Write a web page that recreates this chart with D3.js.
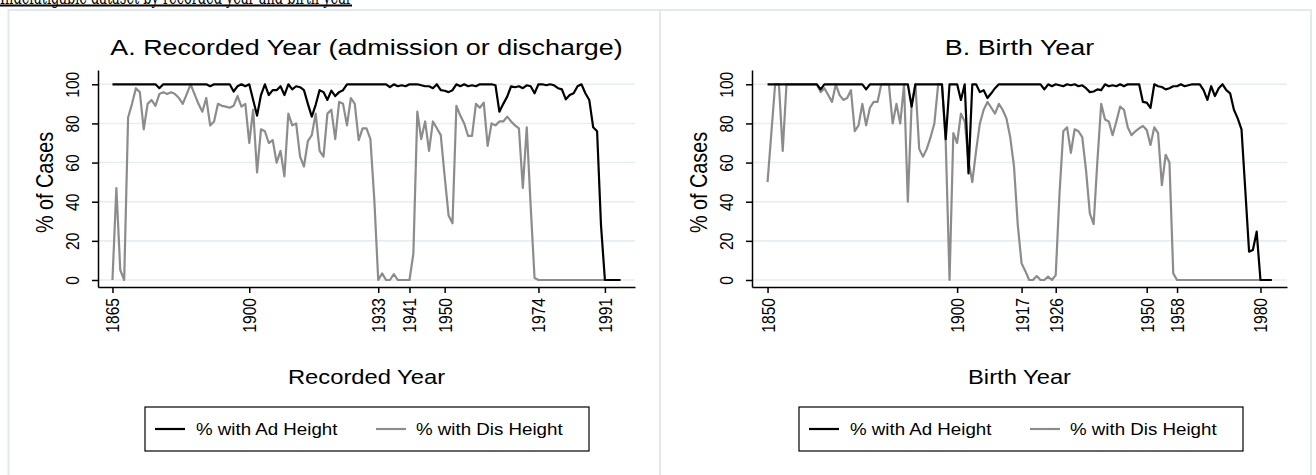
<!DOCTYPE html>
<html>
<head>
<meta charset="utf-8">
<script src="https://cdn.jsdelivr.net/npm/d3@7"></script>
<style>
  html, body { margin: 0; padding: 0; background: #fff; }
  svg { display: block; }
  text { font-family: "Liberation Sans", Arial, Helvetica, sans-serif; fill: #000; }
</style>
</head>
<body>
<svg id="chart" width="1316" height="475"></svg>
<script>
// ---------------- data ----------------
const headerText = "Indefatigable dataset by recorded year and birth year";
const panelTitles = ["A. Recorded Year (admission or discharge)", "B. Birth Year"];
const xAxisTitles = ["Recorded Year", "Birth Year"];
const yAxisTitle = "% of Cases";
const seriesNames = ["% with Ad Height", "% with Dis Height"];
const yTickValues = [0, 20, 40, 60, 80, 100];
const recTickValues = [1865, 1900, 1933, 1941, 1950, 1974, 1991];
const birthTickValues = [1850, 1900, 1917, 1926, 1950, 1958, 1980];

const recStartYear = 1865;   // recorded year series run 1865..1995
const birthStartYear = 1850; // birth year series run 1850..1983

const recAdHeight = [
  100,100,100,100,100,100,100,100,100,100,
  100,100,98,100,100,100,100,100,100,100,
  100,100,100,100,100,99,100,100,100,100,
  100,96.3,99,100,99,100,92,84,94.5,100,
  94.5,97,97,99,94.5,100,97.4,99,98.5,97,
  90,83.5,89.5,97,96,92,96.8,94,96,97,
  100,100,100,100,100,100,100,100,100,100,
  100,98.5,100,99,99.5,99,100,100,100,99.5,
  99,99,98,100,97,96.7,96,97,100,99,
  100,99,99.5,99,100,100,100,100,99.5,86,
  90,93.7,99,98.5,99,98,99.5,99,95.4,100,
  100,99.5,100,99.5,98,97.4,92.3,94.5,95.4,99,
  100,95.4,92,78,76,28,0,0,0,0,
  0
];
const recDisHeight = [
  0,47,5,0,83,90,98,96,77,90,
  92,89,95,96,95,96,95,93,90,95,
  100,95,90,86,93,79,81,90,89,88.6,
  88,89,94,88.6,90,70,87,55,77,76,
  70,71.5,60,66,53,85,79,80,63,58,
  71,74,85,66,63,85,87,72,91,90,
  79,93,90,71.5,77.5,77.5,72,41,0,3.4,
  0,0,3,0,0,0,0,13.6,86,72,
  81,66,81,77.5,74,53,33,29,89,84,
  80,73.6,73.6,90,88,90.6,68.5,80,79,81,
  81,83.5,81,79,77.5,47,78,38,1,0,
  0,0,0,0,0,0,0,0,0,0,
  0,0,0,0,0,0,0,0,0,0,
  0
];
const birthAdHeight = [
  100,100,100,100,100,100,100,100,100,100,
  100,100,100,100,97.4,100,100,100,100,100,
  100,100,100,100,100,100,97.4,100,100,100,
  100,100,100,100,100,100,100,100,88.6,100,
  100,100,100,100,100,100,100,72,100,100,
  100,92,100,54.5,100,100,96,97,93,95.4,
  98,100,100,100,100,100,100,100,100,100,
  100,100,100,97.4,100,99,100,99.5,99,100,
  99.5,100,99,99.5,98,96,96.3,97.4,97,100,
  99,99.5,99,100,99,100,100,100,100,91,
  90.6,88,100,99,98.6,97.4,98,99,99,100,
  99,99.5,100,100,100,97,92,99,94,98,
  100,97,95.4,87,82.6,77,46,14.5,15.3,24.7,
  0,0,0,0
];
const birthDisHeight = [
  50,75,100,100,66,100,100,100,100,100,
  100,100,100,100,96,98,94.5,91,100,94.5,
  92,93,97,76,79,90,79,88,91,91,
  100,100,100,80,90,80,100,40,90,100,
  67,63,67,73,80,100,100,70,0,75,
  70,85,81,61,50,66,80,87,91,88,
  85,90,87,82.6,73,58,28,8.5,4.5,0,
  0,2,0,0,1.7,0,2.5,44,76,78,
  65,77,76,73,56,34,28.5,61,90,82,
  81,74,81,88.6,87,78,74,76,77.5,78.7,
  76.7,69,78,75,48.5,64,60,3.4,0,0,
  0,0,0,0,0,0,0,0,0,0,
  0,0,0,0,0,0,0,0,0,0,
  0,0,0,0
];

// ---------------- drawing ----------------
const SX = 1.2; // horizontal stretch of the original raster text
const svg = d3.select("#chart");
const colAd = "#000000", colDis = "#8c8c8c";
const gridCol = "#e6eef1", frameCol = "#e0eaee";

// header (cropped at top as in the source image)
svg.append("text")
  .attr("x", 0).attr("y", 3.5)
  .attr("textLength", 352).attr("lengthAdjust", "spacingAndGlyphs")
  .style("font-family", "'DejaVu Serif', 'Liberation Serif', serif")
  .style("font-size", "20px")
  .text(headerText);
svg.append("line").attr("x1", 0).attr("x2", 352).attr("y1", 5.5).attr("y2", 5.5)
  .attr("stroke", "#000").attr("stroke-width", 1.8);

// panel frames
svg.append("rect").attr("x", 8.5).attr("y", 10).attr("width", 651.5).attr("height", 480)
  .attr("fill", "#fff").attr("stroke", frameCol).attr("stroke-width", 2);
svg.append("rect").attr("x", 660).attr("y", 10).attr("width", 651).attr("height", 480)
  .attr("fill", "#fff").attr("stroke", frameCol).attr("stroke-width", 2);

const panels = [
  { left: 98, right: 635, domain: [1861.3, 1998.7], start: recStartYear,
    ad: recAdHeight, dis: recDisHeight, ticks: recTickValues,
    title: panelTitles[0], xTitle: xAxisTitles[0], legendX: 145 },
  { left: 752, right: 1287, domain: [1845.9, 1987.0], start: birthStartYear,
    ad: birthAdHeight, dis: birthDisHeight, ticks: birthTickValues,
    title: panelTitles[1], xTitle: xAxisTitles[1], legendX: 799 }
];

const plotTop = 70, plotBottom = 287;

function stretchText(sel, x, y, rot, size, anchor, txt) {
  return sel.append("text")
    .attr("transform", `translate(${x},${y}) scale(${SX},1)` + (rot ? ` rotate(${rot})` : ""))
    .attr("text-anchor", anchor)
    .style("font-size", size + "px")
    .text(txt);
}

panels.forEach(p => {
  const g = svg.append("g");
  const x = d3.scaleLinear().domain(p.domain).range([p.left, p.right]);
  const y = d3.scaleLinear().domain([-3.58, 107.3]).range([plotBottom, plotTop]);

  // gridlines
  g.append("g").selectAll("line").data(yTickValues).join("line")
    .attr("x1", p.left).attr("x2", p.right)
    .attr("y1", d => y(d)).attr("y2", d => y(d))
    .attr("stroke", gridCol).attr("stroke-width", 1.6);

  // series
  const years = d3.range(p.start, p.start + p.ad.length);
  const line = d3.line().x(d => x(d[0])).y(d => y(d[1]));
  g.append("path").datum(years.map((yr, i) => [yr, p.dis[i]]))
    .attr("d", line).attr("fill", "none").attr("stroke", colDis)
    .attr("stroke-width", 2.2).attr("stroke-linejoin", "round");
  g.append("path").datum(years.map((yr, i) => [yr, p.ad[i]]))
    .attr("d", line).attr("fill", "none").attr("stroke", colAd)
    .attr("stroke-width", 2.2).attr("stroke-linejoin", "round");

  // y axis
  const ya = g.append("g").attr("transform", `translate(${p.left},0)`)
    .call(d3.axisLeft(y).tickValues(yTickValues).tickSize(6).tickSizeOuter(0).tickFormat(d3.format("d")));
  ya.selectAll(".domain, .tick line").attr("stroke", "#000").attr("stroke-width", 1.5);
  ya.selectAll(".tick text").remove();
  ya.selectAll(".tick").each(function(d) {
    stretchText(d3.select(this), -19, 0, -90, 15.6, "middle", d3.format("d")(d));
  });

  // x axis
  const xa = g.append("g").attr("transform", `translate(0,${plotBottom})`)
    .call(d3.axisBottom(x).tickValues(p.ticks).tickSize(6).tickSizeOuter(0).tickFormat(d3.format("d")));
  xa.selectAll(".domain, .tick line").attr("stroke", "#000").attr("stroke-width", 1.5);
  xa.selectAll(".tick text").remove();
  xa.selectAll(".tick").each(function(d) {
    stretchText(d3.select(this), 6.5, 11, -90, 15.6, "end", d3.format("d")(d));
  });

  const cx = (p.left + p.right) / 2;
  // titles
  stretchText(g, cx, 55, 0, 22.4, "middle", p.title);
  stretchText(g, cx, 384, 0, 19.8, "middle", p.xTitle);
  stretchText(g, p.left - 45, (plotTop + plotBottom) / 2 + 4, -90, 19.8, "middle", yAxisTitle);

  // legend
  const lg = g.append("g").attr("transform", `translate(${p.legendX},407)`);
  lg.append("rect").attr("width", 444).attr("height", 44)
    .attr("fill", "#fff").attr("stroke", "#000").attr("stroke-width", 1.2);
  [[colAd, 10, 51], [colDis, 231, 271]].forEach((e, i) => {
    lg.append("line").attr("x1", e[1]).attr("x2", e[1] + 30).attr("y1", 22).attr("y2", 22)
      .attr("stroke", e[0]).attr("stroke-width", 2.2);
    stretchText(lg, e[2], 28, 0, 15.6, "start", seriesNames[i]);
  });
});
</script>
</body>
</html>
